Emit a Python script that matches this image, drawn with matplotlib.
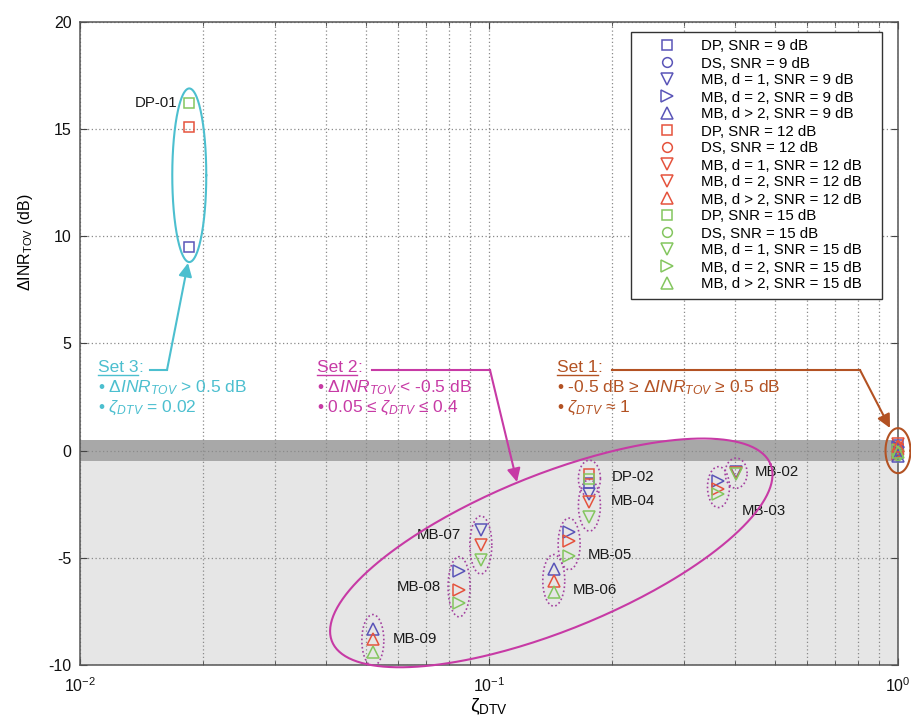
import numpy as np
import matplotlib.pyplot as plt
from matplotlib.lines import Line2D

plt.rcParams['font.family'] = ['Liberation Sans', 'DejaVu Sans']
plt.rcParams['mathtext.fontset'] = 'custom'
plt.rcParams['mathtext.rm'] = 'Liberation Sans'
plt.rcParams['mathtext.it'] = 'Liberation Sans:italic'
plt.rcParams['mathtext.bf'] = 'Liberation Sans:bold'
plt.rcParams['axes.unicode_minus'] = False

# ---- data: zeta_DTV positions and delta INR_TOV (dB) per SNR ----
zeta_dp = [0.0185, 0.176, 1.0]          # DP-01, DP-02, set 1
dp_9 = [9.5, -1.5, 0.25]
dp_12 = [15.1, -1.1, 0.1]
dp_15 = [16.2, -1.3, -0.1]

zeta_ds = [1.0]
ds_9 = [0.0]
ds_12 = [0.2]
ds_15 = [-0.2]

zeta_mb1 = [0.0955, 0.176, 0.402, 1.0]  # MB-07, MB-04, MB-02, set 1
mb1_9 = [-3.7, -2.0, -1.0, -0.1]
mb1_12 = [-4.4, -2.4, -1.05, 0.3]
mb1_15 = [-5.1, -3.1, -1.1, -0.3]

zeta_mb2 = [0.0845, 0.157, 0.364, 1.0]  # MB-08, MB-05, MB-03, set 1
mb2_9 = [-5.6, -3.8, -1.4, 0.15]
mb2_12 = [-6.5, -4.2, -1.8, -0.15]
mb2_15 = [-7.1, -4.9, -2.0, 0.05]

zeta_mb3 = [0.052, 0.144, 1.0]          # MB-09, MB-06, set 1
mb3_9 = [-8.3, -5.5, -0.25]
mb3_12 = [-8.8, -6.1, 0.2]
mb3_15 = [-9.4, -6.6, -0.05]

legend_labels = ['DP, SNR = 9 dB', 'DS, SNR = 9 dB', 'MB, d = 1, SNR = 9 dB',
                 'MB, d = 2, SNR = 9 dB', 'MB, d > 2, SNR = 9 dB',
                 'DP, SNR = 12 dB', 'DS, SNR = 12 dB', 'MB, d = 1, SNR = 12 dB',
                 'MB, d = 2, SNR = 12 dB', 'MB, d > 2, SNR = 12 dB',
                 'DP, SNR = 15 dB', 'DS, SNR = 15 dB', 'MB, d = 1, SNR = 15 dB',
                 'MB, d = 2, SNR = 15 dB', 'MB, d > 2, SNR = 15 dB']
legend_markers = ['s', 'o', 'v', '>', '^',
                  's', 'o', 'v', 'v', '^',
                  's', 'o', 'v', '>', '^']

# groups: name, family, index in that family
groups = [('DP-02', 'dp', 1), ('MB-04', 'mb1', 1), ('MB-05', 'mb2', 1),
          ('MB-06', 'mb3', 1), ('MB-07', 'mb1', 0), ('MB-08', 'mb2', 0),
          ('MB-09', 'mb3', 0), ('MB-03', 'mb2', 2), ('MB-02', 'mb1', 2)]
# label offsets in pixels from the group centre, and alignment
label_offsets = {'DP-02': (22, 2, 'left'), 'MB-04': (21, 4, 'left'),
                 'MB-05': (19, -11, 'left'), 'MB-06': (19, -10, 'left'),
                 'MB-07': (-20, 10, 'right'), 'MB-08': (-18, 0, 'right'),
                 'MB-09': (20, 1, 'left'), 'MB-03': (23, -24, 'left'),
                 'MB-02': (19, 1, 'left')}

c9, c12, c15 = '#5a55b8', '#e5533d', '#84c65f'
c_set1, c_set2, c_set3 = '#b35223', '#c73aa5', '#4cbfcf'

families = {
    'dp': (zeta_dp, [dp_9, dp_12, dp_15], 's'),
    'ds': (zeta_ds, [ds_9, ds_12, ds_15], 'o'),
    'mb1': (zeta_mb1, [mb1_9, mb1_12, mb1_15], 'v'),
    'mb2': (zeta_mb2, [mb2_9, mb2_12, mb2_15], '>'),
    'mb3': (zeta_mb3, [mb3_9, mb3_12, mb3_15], '^'),
}
msize = {'s': 6.5, 'o': 7, 'v': 8.5, '>': 8.5, '^': 8.5}

W, H = 912, 724
fig = plt.figure(figsize=(W / 100, H / 100), dpi=100)
ax = fig.add_axes([80 / W, 1 - 665 / H, (898 - 80) / W, (665 - 22) / H])
ax.set_xscale('log')
ax.set_xlim(1e-2, 1e0)
ax.set_ylim(-10, 20)
ax.set_yticks(np.arange(-10, 21, 5))

px_dec = (898 - 80) / 2.0
px_unit = (665 - 22) / 30.0

ax.axhspan(-10, -0.5, color='#e6e6e6', lw=0, zorder=0.5)
ax.axhspan(-0.5, 0.5, color='#a8a8a8', lw=0, zorder=0.6)

ax.grid(True, which='major', axis='both', color='#8a8a8a', ls=(0, (1, 2)), lw=0.9)
ax.grid(True, which='minor', axis='x', color='#8a8a8a', ls=(0, (1, 2)), lw=0.9)
ax.tick_params(which='both', direction='in', top=True, right=True, colors='#444444',
               labelcolor='#111111', labelsize=11.5)
ax.tick_params(which='major', length=5)
ax.tick_params(which='minor', length=3)
ax.tick_params(axis='y', pad=6)
ax.tick_params(axis='x', pad=8)
for s in ax.spines.values():
    s.set_color('#555555')
    s.set_linewidth(1.1)

for k, (zeta, ys, mk) in families.items():
    for col, y in zip([c9, c12, c15], ys):
        ax.plot(zeta, y, ls='none', marker=mk, ms=msize[mk], mfc='none',
                mec=col, mew=1.1, clip_on=False, zorder=5)


def ellipse(zc, yc, w, h, angle=0.0):
    t = np.linspace(0, 2 * np.pi, 300)
    ex, ey = 0.5 * w * np.cos(t), 0.5 * h * np.sin(t)
    a = np.deg2rad(angle)
    rx = ex * np.cos(a) - ey * np.sin(a)
    ry = ex * np.sin(a) + ey * np.cos(a)
    return zc * 10 ** (rx / px_dec), yc + ry / px_unit


# dotted ellipses round each point group, with labels
for name, fam, i in groups:
    zeta, ys, mk = families[fam]
    vals = [y[i] for y in ys]
    yc = 0.5 * (min(vals) + max(vals))
    h = (max(vals) - min(vals)) * px_unit + 28
    ex, ey = ellipse(zeta[i], yc, 22, h)
    ax.plot(ex, ey, color='#a3419f', ls=(0, (1, 1.5)), lw=1.2, zorder=4)
    dx, dy, ha = label_offsets[name]
    ax.annotate(name, (zeta[i], yc), xytext=(dx, dy), textcoords='offset pixels',
                ha=ha, va='center', fontsize=10.8, color='#1a1a1a')

# DP-01 group (set 3)
vals = [y[0] for y in families['dp'][1]]
yc = 0.5 * (min(vals) + max(vals))
ex, ey = ellipse(zeta_dp[0], yc, 34, (max(vals) - min(vals)) * px_unit + 30)
ax.plot(ex, ey, color=c_set3, lw=1.5, zorder=4)
ax.annotate('DP-01', (zeta_dp[0], max(vals)), xytext=(-12, 0), textcoords='offset pixels',
            ha='right', va='center', fontsize=10.8, color='#1a1a1a')

# set 1 cluster at zeta = 1
ex, ey = ellipse(1.0, 0.0, 25, 45)
ax.plot(ex, ey, color=c_set1, lw=1.5, zorder=6, clip_on=False)

# set 2 enclosing ellipse
ex, ey = ellipse(0.142, -4.77, 473, 156, 22)
ax.plot(ex, ey, color=c_set2, lw=1.5, zorder=4, clip_on=False)


def fp(x, y):
    return (x / W, 1 - y / H)


fig.canvas.draw()
renderer = fig.canvas.get_renderer()


def set_note(x, y, title, lines, color, path):
    t = fig.text(*fp(x, y), title, fontsize=12.5, color=color, va='center', ha='left')
    bb = t.get_window_extent(renderer)
    fig.add_artist(Line2D([bb.x0 / W, bb.x1 / W], [(bb.y0 + 1) / H] * 2,
                          color=color, lw=1.0))
    fig.text(bb.x1 / W, 1 - y / H, ':', fontsize=12.5, color=color, va='center', ha='left')
    for j, s in enumerate(lines):
        fig.text(*fp(x, y + 20 * (j + 1)), s, fontsize=12.5, color=color,
                 va='center', ha='left')
    xs = [p[0] / W for p in path[:-1]]
    ys = [1 - p[1] / H for p in path[:-1]]
    fig.add_artist(Line2D(xs, ys, color=color, lw=1.5))
    fig.add_artist(plt.Annotation('', xy=fp(*path[-1]), xytext=fp(*path[-2]),
                                  xycoords='figure fraction', textcoords='figure fraction',
                                  arrowprops=dict(arrowstyle='-|>', color=color, lw=1.5,
                                                  mutation_scale=20, shrinkA=0, shrinkB=0)))


set_note(98, 368, 'Set 3',
         [r'• $\Delta INR_{TOV}$ > 0.5 dB', r'• $\zeta_{DTV}$ = 0.02'],
         c_set3, [(150, 370), (167, 370), (188, 263)])
set_note(317, 368, 'Set 2',
         [r'• $\Delta INR_{TOV}$ < -0.5 dB', r'• 0.05 ≤ $\zeta_{DTV}$ ≤ 0.4'],
         c_set2, [(372, 370), (490, 370), (517, 482)])
set_note(557, 368, 'Set 1',
         [r'• -0.5 dB ≥ $\Delta INR_{TOV}$ ≥ 0.5 dB', r'• $\zeta_{DTV}$ ≈ 1'],
         c_set1, [(612, 370), (860, 370), (890, 428)])

# legend
leg_colors = [c9] * 5 + [c12] * 5 + [c15] * 5
handles = [Line2D([], [], ls='none', marker=m, ms=msize[m], mfc='none', mec=c, mew=1.1)
           for m, c in zip(legend_markers, leg_colors)]
leg = ax.legend(handles, [s + '   ' for s in legend_labels], loc='upper right',
                bbox_to_anchor=(882 / W, 1 - 32 / H), bbox_transform=fig.transFigure,
                borderaxespad=0, fontsize=10.8, fancybox=False, framealpha=1,
                edgecolor='#333333', borderpad=0.5, handlelength=3.8,
                handletextpad=0.4, labelspacing=0.2, numpoints=1)
leg.get_frame().set_linewidth(1.0)
leg.set_zorder(10)

ax.set_ylabel(r'$\Delta$INR$_{\mathrm{TOV}}$ (dB)', fontsize=11.5)
ax.yaxis.set_label_coords((35 - 80) / (898 - 80), (665 - 242) / (665 - 22))
ax.set_xlabel(r'$\mathrm{\zeta}_{\mathrm{DTV}}$', fontsize=14, labelpad=1)

fig.savefig('out.png', dpi=100)
